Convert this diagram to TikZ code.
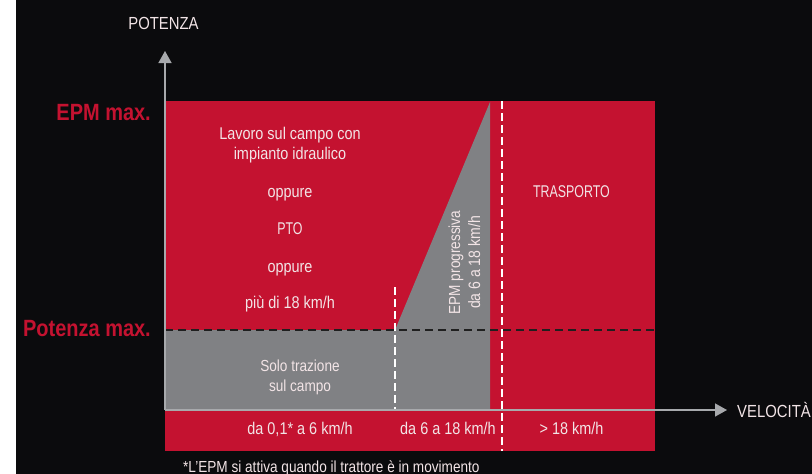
\documentclass[tikz,border=0pt]{standalone}
\usepackage{fontspec}
\setmainfont[FakeStretch=0.85]{Liberation Sans}
\newfontfamily\narrowcaps[FakeStretch=0.73]{Liberation Sans}
\usetikzlibrary{arrows.meta}
\definecolor{bg}{HTML}{0B0B0D}
\definecolor{epmred}{HTML}{C41230}
\definecolor{epmgray}{HTML}{808184}
\definecolor{axisgray}{HTML}{A7A9AC}
\definecolor{txt}{HTML}{F2E4E6}
\tikzset{
  lbl/.style={text=txt, font=\fontsize{17}{20}\selectfont, inner sep=0pt, anchor=base},
  redlbl/.style={text=epmred, font=\fontsize{23.5}{26}\selectfont\bfseries, inner sep=0pt, anchor=base east},
  axisline/.style={draw=axisgray, line width=1.5pt, -{Triangle[length=12pt,width=13pt]}},
  wdash/.style={draw=white, line width=1.4pt, dash pattern=on 8pt off 4pt},
  kdash/.style={draw=black!88, line width=1.3pt, dash pattern=on 8pt off 5pt}
}
\begin{document}
\begin{tikzpicture}[x=1pt,y=-1pt]
\useasboundingbox (0,0) rectangle (812,474);
\fill[white] (0,0) rectangle (812,474);
\fill[bg] (16,0) rectangle (812,474);
% main red area
\fill[epmred] (165,101) rectangle (655,451);
% gray area with triangle
\fill[epmgray] (165,330) -- (395,330) -- (490,102) -- (490,410) -- (165,410) -- cycle;
% dashed lines
\coordinate (pmL) at (165,330);
\coordinate (pmR) at (655,330);
\draw[kdash] (pmL) -- (pmR);
\coordinate (v1t) at (395,287);
\coordinate (v1b) at (395,410);
\draw[wdash] (v1t) -- (v1b);
\coordinate (v2t) at (502,101);
\coordinate (v2b) at (502,451);
\draw[wdash] (v2t) -- (v2b);
% axes
\coordinate (o) at (165,410);
\coordinate (ytip) at (165,51);
\coordinate (xtip) at (727,410);
\draw[axisline] (o) -- (ytip);
\draw[axisline] (o) -- (xtip);
% labels
\node[lbl, font=\fontsize{17.5}{20}\selectfont] (pot) at (163.5,29) {POTENZA};
\node[lbl, anchor=base west, font=\fontsize{17.5}{20}\selectfont] (vel) at (737,417) {VELOCITÀ};
\node[redlbl] (epmmax) at (151,120) {EPM max.};
\node[redlbl] (potmax) at (151,336) {Potenza max.};
\node[lbl] (lav1) at (290,139) {Lavoro sul campo con};
\node[lbl] (lav2) at (290,159) {impianto idraulico};
\node[lbl] (opp1) at (290,197) {oppure};
\node[lbl, font=\fontsize{17}{20}\narrowcaps] (pto) at (290,234) {PTO};
\node[lbl] (opp2) at (290,272) {oppure};
\node[lbl] (piu) at (290,308) {più di 18 km/h};
\node[lbl, font=\fontsize{16}{19}\selectfont] (solo1) at (300,371) {Solo trazione};
\node[lbl, font=\fontsize{16}{19}\selectfont] (solo2) at (300,391) {sul campo};
\node[lbl, rotate=90, font=\fontsize{16}{19}\selectfont] (prog1) at (460,262.5) {EPM progressiva};
\node[lbl, rotate=90, font=\fontsize{16.5}{19}\selectfont] (prog2) at (480,262.5) {da 6 a 18 km/h};
\node[lbl, font=\fontsize{17}{20}\narrowcaps] (tras) at (571.5,197) {TRASPORTO};
\node[lbl] (b1) at (300,434) {da 0,1* a 6 km/h};
\node[lbl] (b2) at (448,434) {da 6 a 18 km/h};
\node[lbl] (b3) at (571.5,434) {> 18 km/h};
\node[lbl, anchor=base west, font=\fontsize{16}{18}\selectfont] (note) at (183,472) {*L’EPM si attiva quando il trattore è in movimento};
\end{tikzpicture}
\end{document}
